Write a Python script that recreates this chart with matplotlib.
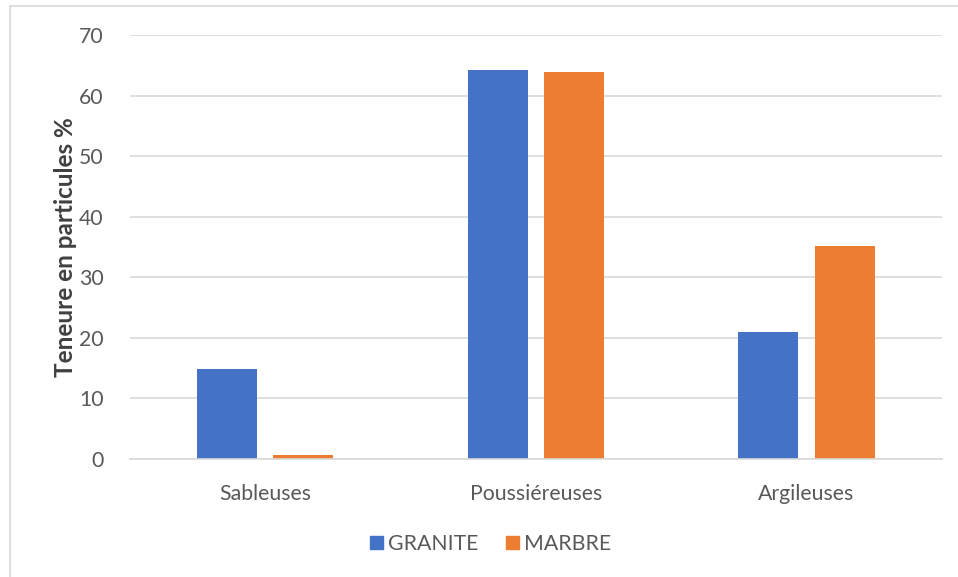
import numpy as np
import matplotlib.pyplot as plt
from matplotlib.lines import Line2D
from matplotlib.patches import Patch

categories = ["Sableuses", "Poussiéreuses", "Argileuses"]
granite = [14.8, 64.2, 20.9]
marbre = [0.7, 63.9, 35.2]
series_names = ["GRANITE", "MARBRE"]

BLUE = "#4472C4"
ORANGE = "#ED7D31"
GRID = "#D9D9D9"
TEXT = "#595959"

plt.rcParams["font.family"] = ["Lato", "DejaVu Sans"]

fig = plt.figure(figsize=(9.58, 5.77), dpi=100)
ax = fig.add_axes([0.1357, 0.2045, 0.8473, 0.7348])

x = np.arange(len(categories))
w = 0.222
off = 0.141
ax.bar(x - off, granite, w, color=BLUE, zorder=3)
ax.bar(x + off, marbre, w, color=ORANGE, zorder=3)

ax.set_xlim(-0.5, len(categories) - 0.5)
ax.set_ylim(0, 70)
ax.set_yticks(range(0, 71, 10))
ax.yaxis.grid(True, color=GRID, linewidth=1.2, zorder=0)
ax.set_xticks(x)
ax.set_xticklabels(categories)
ax.tick_params(axis="both", length=0, labelsize=15.3, colors=TEXT)
ax.tick_params(axis="y", pad=19)
ax.tick_params(axis="x", pad=18)
for side in ("top", "right", "left"):
    ax.spines[side].set_visible(False)
ax.spines["bottom"].set_color(GRID)
ax.spines["bottom"].set_linewidth(1.2)
ax.spines["bottom"].set_zorder(4)

ax.set_ylabel("Teneure en particules %", fontsize=17.5, fontweight="bold",
              color="#404040", labelpad=1)

handles = [Patch(color=BLUE), Patch(color=ORANGE)]
fig.legend(handles, series_names, loc="center", bbox_to_anchor=(0.5125, 1 - 544 / 577),
           ncol=2, frameon=False, fontsize=15.3, labelcolor=TEXT,
           handlelength=0.6, handleheight=0.6, handletextpad=0.25, columnspacing=1.3)

# thin frame around the chart
fig.add_artist(Line2D([9.5 / 958, 1.0], [1 - 6 / 577] * 2, color=GRID,
                      linewidth=1.2, transform=fig.transFigure))
fig.add_artist(Line2D([9.5 / 958] * 2, [0, 1 - 6 / 577], color=GRID,
                      linewidth=1.2, transform=fig.transFigure))

fig.savefig("out.png", dpi=100, facecolor="white")
